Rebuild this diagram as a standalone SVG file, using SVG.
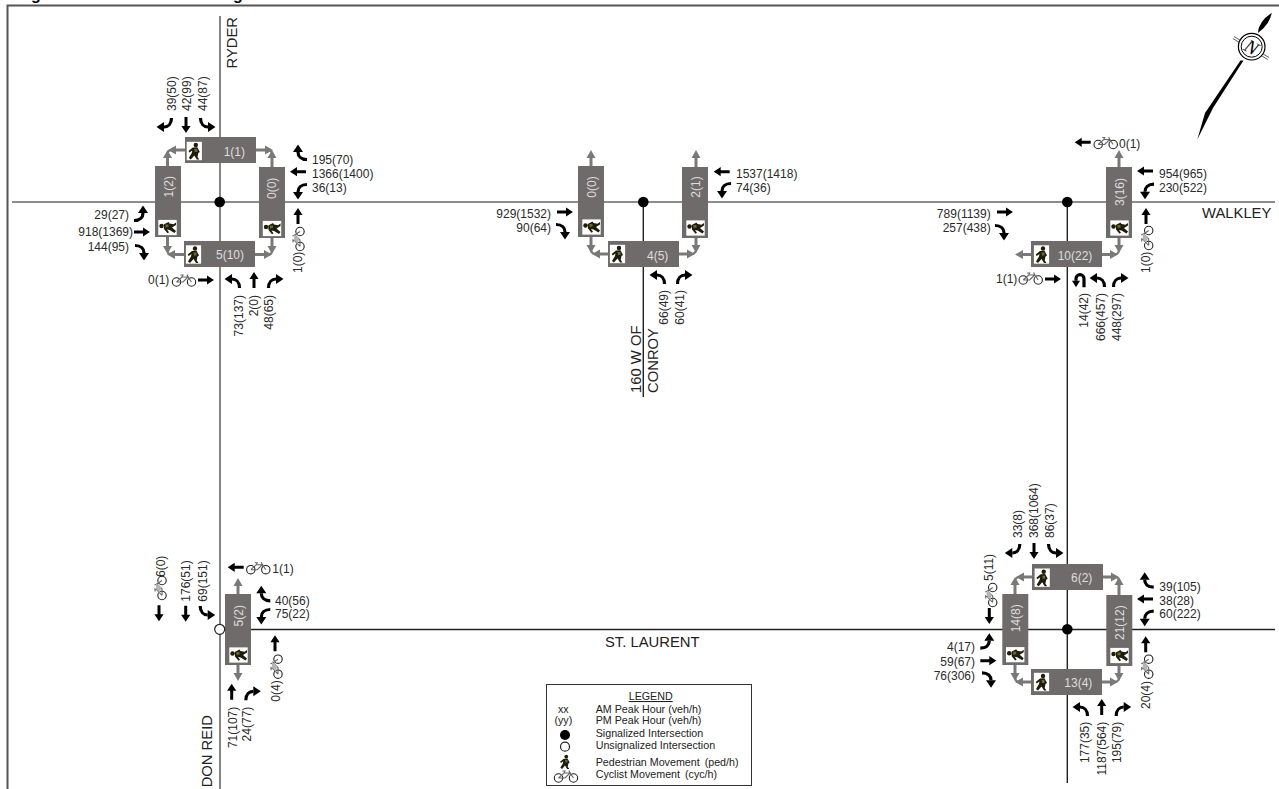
<svg xmlns="http://www.w3.org/2000/svg" xmlns:xlink="http://www.w3.org/1999/xlink" width="1279" height="789" viewBox="0 0 1279 789">
<style>
text{font-family:"Liberation Sans",Arial,sans-serif;font-size:12px;fill:#2a2a2a}
.e{text-anchor:end}.m{text-anchor:middle}
.b{fill:#6f6b6b}
.w{fill:#ddd;text-anchor:middle}
.n{font-size:14.8px;fill:#222}
.l{font-size:10.7px;fill:#222}
.g{stroke:#7b7878;stroke-width:3;fill:none}
.a{stroke:#7b7878;stroke-width:2;fill:none}
.r{stroke:#666;stroke-width:1.6;fill:none}
.k{stroke:#222;stroke-width:1.4;fill:none}
.s{fill:#000}
.u{fill:#fff;stroke:#222;stroke-width:1.2}
.t{font-size:16px;font-weight:bold;fill:#000}
</style>
<defs>
<marker id="gh" markerUnits="userSpaceOnUse" markerWidth="9" markerHeight="10" refX="0" refY="5" orient="auto"><polygon points="0,0.5 8,5 0,9.5" fill="#7b7878"/></marker>
<polygon id="al" points="-8,0 -1,-4.6 -1,-1.5 8,-1.5 8,1.5 -1,1.5 -1,4.6" fill="#000"/>
<use id="ar" href="#al" transform="rotate(180)"/>
<use id="au" href="#al" transform="rotate(90)"/>
<use id="ad" href="#al" transform="rotate(-90)"/>
<g id="nr"><path d="M-6.500 7C-6.500 1-3-2 1-2" fill="none" stroke="#000" stroke-width="3.200"/><polygon points="1,-7 8.500,-2 1,3" fill="#000"/></g>
<use id="nl" href="#nr" transform="scale(-1,1)"/>
<use id="sr" href="#nr" transform="rotate(180)"/>
<use id="sl" href="#nr" transform="scale(1,-1)"/>
<use id="wr" href="#nr" transform="rotate(-90)"/>
<use id="wl" href="#nr" transform="scale(1,-1) rotate(-90)"/>
<use id="el" href="#nr" transform="scale(-1,1) rotate(-90)"/>
<use id="er" href="#nr" transform="rotate(90)"/>
<g id="uu"><path d="M4 6.500V-2A4 4 0 0 0-4-2V0" fill="none" stroke="#000" stroke-width="3.200"/><polygon points="-8,0 0,0 -4,6.500" fill="#000"/></g>
<g id="fig"><circle cx="1.500" cy="-6" r="2.200" fill="#1f1c0c"/><path d="M-1.500-3.500L3-3.800 5.500 1 4 2 3.200 6 5 8.500 2.500 8.500 0 4.500-3.500 8.500-5.500 7-2.500 2-2-0.500-4.800 1.500-5.800 0Z" fill="#1f1c0c"/><path d="M0-2L3-2 3 1 .5 1Z" fill="#6b6a2e"/></g>
<g id="ped"><rect x="-7.600" y="-9.200" width="15.200" height="18.400" fill="#fff"/><use href="#fig"/></g>
<use id="pedr" href="#ped" transform="rotate(-90)"/>
<g id="bike" fill="none" stroke="#222" stroke-width="1.100"><circle cx="-7.500" cy="2" r="4.200"/><circle cx="7.500" cy="2" r="4.200"/><path d="M-7.500 2L-2-3H4L-1 2H-7.500M4-3L7.500 2M-3.500-5H-1L-2-3M3-5.500L4-3" stroke="#666"/></g>
<g id="biker" transform="rotate(-90)"><use href="#bike"/><path d="M-5 0L-1-4H5L1 1Z" fill="#b5b5b5"/></g>
</defs>

<path d="M7.500 789V5.500H1279" fill="none" stroke="#555" stroke-width="2"/>
<text class="t" x="31" y="0">g</text>
<text class="t" x="233" y="0">g</text>

<g id="connectors">
<path class="r" d="M12 202H1275"/>
<path class="r" d="M220 16V789"/>
<path class="k" d="M643.300 202V397"/>
<path class="k" d="M1067.300 202V783"/>
<path class="k" d="M224 629.500H1275"/>
<path class="g" marker-end="url(#gh)" d="M185 150H176"/><path class="g" marker-end="url(#gh)" d="M167.500 166V158"/><path class="a" d="M172 150Q167.500 150 167.500 155"/>
<path class="g" marker-end="url(#gh)" d="M256 150H265"/><path class="g" marker-end="url(#gh)" d="M272 167V158"/><path class="a" d="M268 150Q272 150 272 155"/>
<path class="g" marker-end="url(#gh)" d="M167.500 237V246"/><path class="g" marker-end="url(#gh)" d="M184 254.500H175"/><path class="a" d="M167.500 250Q167.500 254.500 172 254.500"/>
<path class="g" marker-end="url(#gh)" d="M255 254.500H264"/><path class="g" marker-end="url(#gh)" d="M272 238V246"/><path class="a" d="M272 250Q272 254.500 268 254.500"/>
<path class="g" marker-end="url(#gh)" d="M591 166V158"/><path class="g" marker-end="url(#gh)" d="M696 167V158"/>
<path class="g" marker-end="url(#gh)" d="M591 237V245"/><path class="g" marker-end="url(#gh)" d="M608 254H600"/><path class="a" d="M591 249Q591 254 596 254"/>
<path class="g" marker-end="url(#gh)" d="M696 238V245"/><path class="g" marker-end="url(#gh)" d="M679 254H687"/><path class="a" d="M696 249Q696 254 691 254"/>
<path class="g" marker-end="url(#gh)" d="M1119 167V158"/><path class="g" marker-end="url(#gh)" d="M1119 238V245"/>
<path class="g" marker-end="url(#gh)" d="M1031 254.500H1023"/><path class="g" marker-end="url(#gh)" d="M1102 254.500H1110"/><path class="a" d="M1119 249Q1119 254.500 1114 254.500"/>
<path class="g" marker-end="url(#gh)" d="M1032 577H1024"/><path class="g" marker-end="url(#gh)" d="M1015 594V585"/><path class="a" d="M1020 577Q1015 577 1015 582"/>
<path class="g" marker-end="url(#gh)" d="M1103 577H1111"/><path class="g" marker-end="url(#gh)" d="M1119 595V585"/><path class="a" d="M1115 577Q1119 577 1119 582"/>
<path class="g" marker-end="url(#gh)" d="M1015 665V673"/><path class="g" marker-end="url(#gh)" d="M1031 682H1023"/><path class="a" d="M1015 677Q1015 682 1020 682"/>
<path class="g" marker-end="url(#gh)" d="M1119 666V673"/><path class="g" marker-end="url(#gh)" d="M1102 682H1110"/><path class="a" d="M1119 677Q1119 682 1114 682"/>
<path class="g" marker-end="url(#gh)" d="M238 594V586"/><path class="g" marker-end="url(#gh)" d="M238 665V673"/>
</g>

<g id="road-names">
<text class="n" transform="rotate(-90 237.300 68.500)" x="237.300" y="68.500">RYDER</text>
<text class="n" x="1202" y="218">WALKLEY</text>
<text class="n" x="605" y="646.700">ST. LAURENT</text>
<text class="n" transform="rotate(-90 641 393)" x="641" y="393">160 W OF</text>
<text class="n" transform="rotate(-90 658 393)" x="658" y="393">CONROY</text>
<text class="n e" transform="rotate(-90 211.700 715)" x="211.700" y="715">DON REID</text>
</g>

<g id="n1-ryder-walkley">
<rect class="b" x="185" y="137" width="71" height="26"/>
<rect class="b" x="155" y="166" width="26" height="71"/>
<rect class="b" x="259" y="167" width="26" height="71"/>
<rect class="b" x="184" y="241" width="71" height="26"/>
<circle class="s" cx="219.700" cy="202" r="5.300"/>
<use href="#ped" x="194.300" y="151"/><use href="#ped" x="193.500" y="254.500"/>
<use href="#pedr" transform="translate(167.500 227.500)"/><use href="#pedr" transform="translate(272 228.500)"/>
<text class="w" x="234.300" y="156.300">1(1)</text>
<text class="w" x="230" y="259.300">5(10)</text>
<text class="w" transform="rotate(-90 172.600 186.700)" x="172.600" y="186.700">1(2)</text>
<text class="w" transform="rotate(-90 276 188.300)" x="276" y="188.300">0(0)</text>
<text transform="rotate(-90 176 111)" x="176" y="111">39(50)</text>
<text transform="rotate(-90 191 111)" x="191" y="111">42(99)</text>
<text transform="rotate(-90 207 111)" x="207" y="111">44(87)</text>
<use href="#sr" x="165" y="125"/><use href="#ad" x="186" y="125"/><use href="#sl" x="207" y="125"/>
<text x="312" y="163.500">195(70)</text><text x="312" y="178">1366(1400)</text><text x="312" y="192">36(13)</text>
<use href="#wr" x="300" y="153"/><use href="#al" x="298" y="171.700"/><use href="#wl" x="300" y="191"/>
<text class="e" x="129" y="219">29(27)</text><text class="e" x="133" y="236">918(1369)</text><text class="e" x="129" y="251">144(95)</text>
<use href="#el" x="141" y="214"/><use href="#ar" x="142" y="232"/><use href="#er" x="142" y="252"/>
<text x="148" y="284">0(1)</text><use href="#bike" x="184" y="280"/><use href="#ar" x="206" y="280"/>
<use href="#nl" x="233" y="281"/><use href="#au" x="254" y="280"/><use href="#nr" x="275" y="281"/>
<text class="e" transform="rotate(-90 243 295)" x="243" y="295">73(137)</text>
<text class="e" transform="rotate(-90 257.700 295)" x="257.700" y="295">2(0)</text>
<text class="e" transform="rotate(-90 273 295)" x="273" y="295">48(65)</text>
<use href="#au" x="298" y="216"/><use href="#biker" transform="translate(298 239)"/>
<text transform="rotate(-90 302 273)" x="302" y="273">1(0)</text>
</g>

<g id="n2-conroy-walkley">
<rect class="b" x="578" y="166" width="26" height="71"/>
<rect class="b" x="682" y="167" width="26" height="71"/>
<rect class="b" x="608" y="241" width="71" height="26"/>
<circle class="s" cx="643.300" cy="202" r="5.300"/>
<use href="#ped" x="617.500" y="254"/>
<use href="#pedr" transform="translate(591.500 227)"/><use href="#pedr" transform="translate(695.500 228)"/>
<text class="w" transform="rotate(-90 596.300 187)" x="596.300" y="187">0(0)</text>
<text class="w" transform="rotate(-90 700 187)" x="700" y="187">2(1)</text>
<text class="w" x="657.700" y="260">4(5)</text>
<text class="e" x="551" y="218">929(1532)</text><text class="e" x="551" y="231.700">90(64)</text>
<use href="#ar" x="565" y="212"/><use href="#er" x="563" y="231"/>
<text x="736" y="178">1537(1418)</text><text x="736" y="191.500">74(36)</text>
<use href="#al" x="721.700" y="171.700"/><use href="#wl" x="724" y="190"/>
<use href="#nl" x="658" y="277"/><use href="#nr" x="684" y="277"/>
<text class="e" transform="rotate(-90 668 290)" x="668" y="290">66(49)</text>
<text class="e" transform="rotate(-90 684 290)" x="684" y="290">60(41)</text>
</g>

<g id="n3-walkley-east">
<rect class="b" x="1106" y="167" width="26" height="71"/>
<rect class="b" x="1031" y="241" width="71" height="26"/>
<circle class="s" cx="1067.300" cy="202" r="5.300"/>
<use href="#ped" x="1041.500" y="254.500"/>
<use href="#pedr" transform="translate(1119.500 228)"/>
<text class="w" transform="rotate(-90 1124 192)" x="1124" y="192">3(16)</text>
<text class="w" x="1075" y="260">10(22)</text>
<text x="1159" y="178">954(965)</text><text x="1159" y="191.700">230(522)</text>
<use href="#al" x="1145" y="171"/><use href="#wl" x="1147" y="190.700"/>
<use href="#al" x="1082.700" y="142.300"/><use href="#bike" x="1105.700" y="142.500"/><text x="1119" y="147.500">0(1)</text>
<text class="e" x="990.700" y="218">789(1139)</text><text class="e" x="990.700" y="231.700">257(438)</text>
<use href="#ar" x="1005" y="212"/><use href="#er" x="1002" y="232"/>
<text x="996" y="283">1(1)</text><use href="#bike" x="1030.700" y="278"/><use href="#ar" x="1053" y="279"/>
<use href="#uu" x="1080" y="280.700"/><use href="#nl" x="1098" y="280"/><use href="#nr" x="1120" y="280"/>
<text class="e" transform="rotate(-90 1088 293)" x="1088" y="293">14(42)</text>
<text class="e" transform="rotate(-90 1105 293)" x="1105" y="293">666(457)</text>
<text class="e" transform="rotate(-90 1121 293)" x="1121" y="293">448(297)</text>
<use href="#au" x="1146" y="216"/><use href="#biker" transform="translate(1146.700 238)"/>
<text transform="rotate(-90 1150 273)" x="1150" y="273">1(0)</text>
</g>

<g id="n4-stlaurent-east">
<rect class="b" x="1032" y="564" width="71" height="26"/>
<rect class="b" x="1002.300" y="594" width="26" height="71"/>
<rect class="b" x="1106.300" y="595" width="26" height="71"/>
<rect class="b" x="1031" y="669" width="71" height="26"/>
<circle class="s" cx="1067.300" cy="629.300" r="5.300"/>
<use href="#ped" x="1042.200" y="577.700"/><use href="#ped" x="1041.500" y="682"/>
<use href="#pedr" transform="translate(1015.200 654.700)"/><use href="#pedr" transform="translate(1119.500 655.500)"/>
<text class="w" x="1081.700" y="582">6(2)</text>
<text class="w" x="1078.300" y="687">13(4)</text>
<text class="w" transform="rotate(-90 1020.300 618.300)" x="1020.300" y="618.300">14(8)</text>
<text class="w" transform="rotate(-90 1124.300 622.700)" x="1124.300" y="622.700">21(12)</text>
<text transform="rotate(-90 1022.300 538)" x="1022.300" y="538">33(8)</text>
<text transform="rotate(-90 1038.300 538)" x="1038.300" y="538">368(1064)</text>
<text transform="rotate(-90 1054.300 538)" x="1054.300" y="538">86(37)</text>
<use href="#sr" x="1013.300" y="551"/><use href="#ad" x="1034" y="551"/><use href="#sl" x="1055" y="551"/>
<text transform="rotate(-90 993.300 581)" x="993.300" y="581">5(11)</text>
<use href="#biker" transform="translate(990.700 595)"/><use href="#ad" x="989.300" y="616"/>
<text class="e" x="975" y="651">4(17)</text><text class="e" x="975" y="665.700">59(67)</text><text class="e" x="975" y="680">76(306)</text>
<use href="#el" x="987.300" y="641.700"/><use href="#ar" x="988.300" y="660.700"/><use href="#er" x="989" y="679.300"/>
<text x="1159.300" y="591">39(105)</text><text x="1159.300" y="605">38(28)</text><text x="1159.300" y="618.300">60(222)</text>
<use href="#wr" x="1146.700" y="580.700"/><use href="#al" x="1145" y="599"/><use href="#wl" x="1146.700" y="617.700"/>
<use href="#au" x="1145.700" y="644.300"/><use href="#biker" transform="translate(1146.700 666.700)"/>
<text transform="rotate(-90 1150 709)" x="1150" y="709">20(4)</text>
<use href="#nl" x="1081" y="709"/><use href="#au" x="1101.700" y="707"/><use href="#nr" x="1122.700" y="709"/>
<text class="e" transform="rotate(-90 1089 721.700)" x="1089" y="721.700">177(35)</text>
<text class="e" transform="rotate(-90 1105.700 721.700)" x="1105.700" y="721.700">1187(564)</text>
<text class="e" transform="rotate(-90 1121 721.700)" x="1121" y="721.700">195(79)</text>
</g>

<g id="n5-donreid-stlaurent">
<rect class="b" x="225" y="594" width="26" height="71"/>
<circle class="u" cx="219.700" cy="629.300" r="5"/>
<use href="#pedr" transform="translate(238.500 655)"/>
<text class="w" transform="rotate(-90 242.800 615.700)" x="242.800" y="615.700">5(2)</text>
<text transform="rotate(-90 165 577)" x="165" y="577">6(0)</text>
<use href="#biker" transform="translate(160 588)"/><use href="#ad" x="159" y="613.300"/>
<text transform="rotate(-90 190 601.700)" x="190" y="601.700">176(51)</text><use href="#ad" x="185.700" y="613.700"/>
<text transform="rotate(-90 206.700 601.700)" x="206.700" y="601.700">69(151)</text><use href="#sl" x="206.700" y="613"/>
<use href="#al" x="235.700" y="567.300"/><use href="#bike" x="258.300" y="567.700"/><text x="272.300" y="572.700">1(1)</text>
<text x="275" y="605">40(56)</text><text x="275" y="618.300">75(22)</text>
<use href="#wr" x="263.300" y="594.300"/><use href="#wl" x="263.300" y="616"/>
<use href="#au" x="275" y="643.300"/><use href="#biker" transform="translate(276 666.700)"/>
<text transform="rotate(-90 280 701.700)" x="280" y="701.700">0(4)</text>
<use href="#au" x="231.700" y="691.700"/><use href="#nr" x="252.300" y="693.300"/>
<text class="e" transform="rotate(-90 236.700 706.700)" x="236.700" y="706.700">71(107)</text>
<text class="e" transform="rotate(-90 251 706.700)" x="251" y="706.700">24(77)</text>
</g>

<g id="legend">
<rect x="546.500" y="684.500" width="205" height="101" fill="#fff" stroke="#333" stroke-width="1"/>
<text class="l m" x="650.700" y="700" text-decoration="underline">LEGEND</text>
<text class="l m" x="563.300" y="712.700">xx</text><text class="l" x="595.700" y="712.700">AM Peak Hour (veh/h)</text>
<text class="l m" x="563.300" y="724.300">(yy)</text><text class="l" x="595.700" y="724.300">PM Peak Hour (veh/h)</text>
<circle class="s" cx="565" cy="735" r="5"/><text class="l" x="595.700" y="737.300">Signalized Intersection</text>
<circle class="u" cx="565" cy="746.700" r="4.500"/><text class="l" x="595.700" y="749.300">Unsignalized Intersection</text>
<use href="#fig" transform="translate(565 761.700) scale(.85)"/><text class="l" x="595.700" y="766">Pedestrian Movement <tspan dx="2">(ped/h)</tspan></text>
<use href="#bike" x="566" y="776"/><text class="l" x="595.700" y="778.300">Cyclist Movement <tspan dx="2">(cyc/h)</tspan></text>
</g>

<g id="north-arrow">
<path d="M1271.700 12.700Q1270 24 1258 33Q1258 22 1271.700 12.700Z" fill="#000"/>
<path d="M1234 36.500L1269 57.500M1232.800 38.500L1267.800 59.500" stroke="#333" stroke-width=".8" fill="none"/>
<circle cx="1251.700" cy="46.700" r="13.300" fill="#fff" stroke="#000" stroke-width="1.200"/>
<circle cx="1251.700" cy="46.700" r="10.500" fill="none" stroke="#000" stroke-width="1"/>
<text transform="rotate(30 1251.700 46.700)" x="1251.700" y="53.500" text-anchor="middle" style="font-family:'Liberation Serif',serif;font-style:italic;font-size:19px;fill:#000">N</text>
<path d="M1243.500 60.500L1240.500 60.500 1205 113 1197.300 139.500 1213 108Z" fill="#000"/>
</g>
</svg>
